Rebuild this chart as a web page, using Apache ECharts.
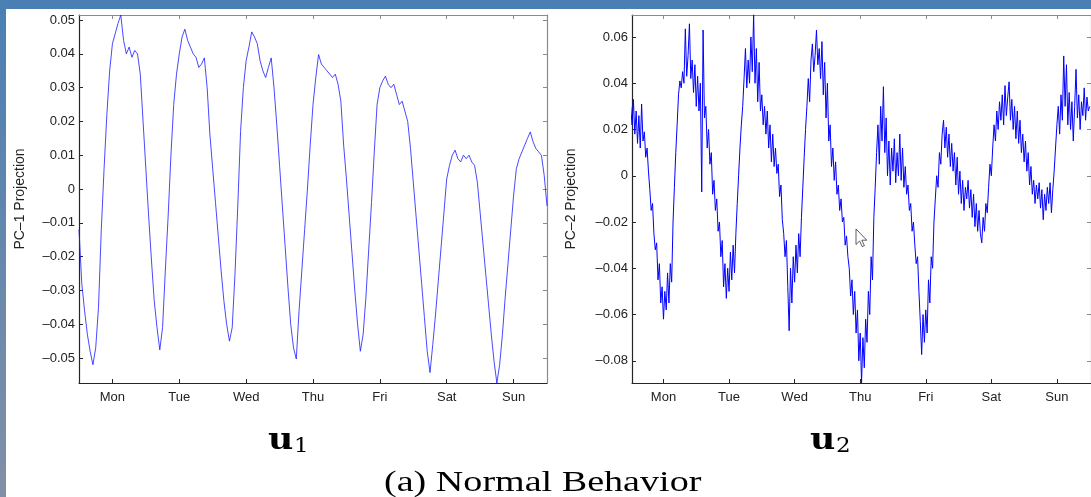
<!DOCTYPE html>
<html>
<head>
<meta charset="utf-8">
<script src="https://cdn.jsdelivr.net/npm/echarts@6/dist/echarts.min.js"></script>
<style>
html,body{margin:0;padding:0;background:#fff;overflow:hidden;width:1091px;height:497px;}
#chart{width:1091px;height:497px;}
</style>
</head>
<body>
<div id="chart"></div>
<script>
// ---- data ----
const dayLabels = ['Mon','Tue','Wed','Thu','Fri','Sat','Sun'];
const dayTicks = [0,1,2,3,4,5,6];
const yTicks1 = [-0.05,-0.04,-0.03,-0.02,-0.01,0,0.01,0.02,0.03,0.04,0.05];
const yTicks2 = [-0.08,-0.06,-0.04,-0.02,0,0.02,0.04,0.06];
const yRange1 = [-0.0574, 0.0515];
const yRange2 = [-0.0896, 0.0695];
const xRange1 = [-0.5, 6.5];
const xRange2 = [-0.48, 6.52];
const samplesPerDay1 = 24;   // hourly samples, starting Mon 00:00
const samplesPerDay2 = 48;   // half-hourly samples, starting Mon 00:00

// PC-1 projection (hourly)
const u1Values = [
 -0.012,-0.028,-0.036,-0.043,-0.048,-0.052,-0.047,-0.035,-0.012,0.006,0.022,0.035,0.043,0.046,0.049,0.0515,0.044,0.040,0.042,0.039,0.041,0.040,0.034,0.020,
 0.006,-0.008,-0.021,-0.033,-0.041,-0.0476,-0.041,-0.024,-0.008,0.010,0.025,0.034,0.040,0.045,0.0473,0.044,0.042,0.040,0.039,0.036,0.037,0.0388,0.030,0.016,
 0.006,-0.004,-0.014,-0.024,-0.033,-0.040,-0.045,-0.041,-0.025,-0.005,0.017,0.030,0.038,0.042,0.0465,0.045,0.043,0.038,0.035,0.033,0.036,0.0388,0.030,0.019,
 0.007,-0.005,-0.017,-0.029,-0.040,-0.047,-0.0503,-0.036,-0.024,-0.012,0.000,0.013,0.025,0.033,0.0398,0.037,0.036,0.035,0.034,0.033,0.034,0.031,0.026,0.013,
 0.003,-0.008,-0.019,-0.030,-0.040,-0.048,-0.043,-0.032,-0.018,-0.004,0.011,0.025,0.030,0.032,0.0334,0.031,0.030,0.031,0.028,0.025,0.026,0.023,0.020,0.012,
 0.002,-0.008,-0.018,-0.028,-0.038,-0.048,-0.0543,-0.046,-0.037,-0.027,-0.017,-0.007,0.003,0.007,0.010,0.0115,0.009,0.008,0.010,0.009,0.010,0.008,0.007,0.002,
 -0.007,-0.016,-0.025,-0.034,-0.043,-0.051,-0.0574,-0.052,-0.043,-0.032,-0.022,-0.012,-0.002,0.006,0.009,0.011,0.013,0.015,0.0169,0.014,0.012,0.011,0.010,0.004,-0.005
];

// PC-2 projection (half-hourly)
const u2Values = [
 0.030,0.022,0.033,0.018,0.028,0.014,0.026,0.012,0.031,0.015,0.019,0.008,
 0.012,0.002,-0.006,-0.015,-0.012,-0.025,-0.032,-0.029,-0.045,-0.038,-0.055,-0.048,
 -0.062,-0.050,-0.058,-0.042,-0.055,-0.038,-0.046,-0.020,-0.005,0.010,0.022,0.035,
 0.041,0.038,0.045,0.040,0.0635,0.043,0.052,0.0657,0.042,0.050,0.036,0.048,
 0.030,0.043,0.028,0.040,-0.007,0.063,0.025,0.030,0.012,0.020,0.005,0.010,
 -0.008,-0.002,-0.015,-0.010,-0.024,-0.020,-0.035,-0.028,-0.048,-0.038,-0.053,-0.040,
 -0.050,-0.033,-0.045,-0.030,-0.042,-0.025,-0.012,0.000,0.012,0.022,0.030,0.042,
 0.055,0.038,0.050,0.040,0.060,0.045,0.0696,0.040,0.055,0.032,0.049,0.028,
 0.035,0.022,0.030,0.018,0.028,0.012,0.022,0.006,0.018,0.004,0.012,0.001,
 0.005,-0.009,-0.004,-0.019,-0.025,-0.035,-0.028,-0.048,-0.067,-0.040,-0.055,-0.035,
 -0.046,-0.030,-0.042,-0.025,-0.035,-0.018,-0.005,0.008,0.020,0.030,0.042,0.032,
 0.050,0.057,0.045,0.052,0.063,0.048,0.055,0.042,0.058,0.035,0.049,0.025,
 0.040,0.015,0.022,0.004,0.012,-0.002,0.006,-0.008,-0.004,-0.015,-0.010,-0.020,
 -0.018,-0.030,-0.026,-0.035,-0.040,-0.052,-0.045,-0.060,-0.050,-0.068,-0.058,-0.080,
 -0.068,-0.0895,-0.070,-0.083,-0.062,-0.072,-0.050,-0.060,-0.035,-0.045,-0.018,-0.005,
 0.010,0.022,0.005,0.030,0.015,0.0385,0.010,0.025,0.000,0.015,-0.004,0.012,
 0.002,0.016,-0.003,0.010,0.000,0.018,-0.002,0.012,-0.005,0.004,-0.008,-0.004,
 -0.015,-0.012,-0.024,-0.020,-0.030,-0.038,-0.035,-0.050,-0.063,-0.0773,-0.060,-0.072,
 -0.058,-0.068,-0.045,-0.055,-0.035,-0.040,-0.020,-0.010,0.000,-0.005,0.010,0.005,
 0.018,0.024,0.012,0.021,0.008,0.018,0.004,0.014,0.002,0.010,-0.004,0.008,
 -0.008,0.002,-0.012,-0.002,-0.015,-0.005,-0.010,-0.002,-0.014,-0.006,-0.018,-0.008,
 -0.022,-0.012,-0.024,-0.015,-0.025,-0.029,-0.018,-0.024,-0.012,-0.016,-0.005,0.005,
 0.000,0.012,0.022,0.015,0.028,0.020,0.032,0.024,0.035,0.022,0.039,0.026,
 0.034,0.0406,0.024,0.033,0.020,0.030,0.016,0.028,0.014,0.024,0.010,0.018,
 0.006,0.015,0.002,0.010,-0.004,0.004,-0.008,-0.002,-0.012,-0.004,-0.010,-0.003,
 -0.014,-0.006,-0.019,-0.008,-0.015,-0.005,-0.012,-0.003,-0.016,-0.006,0.002,0.012,
 0.022,0.030,0.018,0.035,0.024,0.0518,0.030,0.048,0.022,0.036,0.020,0.032,
 0.015,0.030,0.046,0.025,0.035,0.020,0.032,0.026,0.038,0.024,0.034,0.028,0.030
];

// ---- build ----
const toPairs = (vals, perDay) => vals.map((v, i) => [-0.5 + i / perDay, v]);
const fmtY = v => {
  if (Math.abs(v) < 1e-9) return '0';
  const s = Math.abs(v).toFixed(2);
  return v < 0 ? '\u2013' + s : s;
};
const dark = '#262626', gray = '#8a8a8a';
const lblFont = {fontFamily: '"Liberation Sans", Arial, sans-serif', fontSize: 13, color: '#222'};

function xAxes(grid, range) {
  return [
    {gridIndex: grid, type: 'value', min: range[0], max: range[1], position: 'bottom',
     axisLine: {show: true, onZero: false, lineStyle: {color: dark, width: 1.2}},
     axisTick: {show: true, inside: true, length: 4, customValues: dayTicks, lineStyle: {color: dark}},
     axisLabel: Object.assign({show: true, customValues: dayTicks, margin: 8,
       formatter: v => dayLabels[Math.round(v)]}, lblFont),
     splitLine: {show: false}},
    {gridIndex: grid, type: 'value', min: range[0], max: range[1], position: 'top',
     axisLine: {show: true, onZero: false, lineStyle: {color: gray, width: 1.2}},
     axisTick: {show: true, inside: true, length: 4, customValues: dayTicks, lineStyle: {color: gray}},
     axisLabel: {show: false}, splitLine: {show: false}}
  ];
}
function yAxes(grid, range, ticks, name, gap) {
  return [
    {gridIndex: grid, type: 'value', min: range[0], max: range[1], position: 'left',
     name: name, nameLocation: 'middle', nameGap: gap, nameRotate: 90,
     nameTextStyle: {fontFamily: '"Liberation Sans", Arial, sans-serif', fontSize: 14, color: '#222'},
     axisLine: {show: true, onZero: false, lineStyle: {color: dark, width: 1.2}},
     axisTick: {show: true, inside: true, length: 4, customValues: ticks, lineStyle: {color: dark}},
     axisLabel: Object.assign({show: true, customValues: ticks, margin: 4, formatter: fmtY}, lblFont),
     splitLine: {show: false}},
    {gridIndex: grid, type: 'value', min: range[0], max: range[1], position: 'right',
     axisLine: {show: true, onZero: false, lineStyle: {color: gray, width: 1.2}},
     axisTick: {show: true, inside: true, length: 4, customValues: ticks, lineStyle: {color: gray}},
     axisLabel: {show: false}, splitLine: {show: false}}
  ];
}

const chart = echarts.init(document.getElementById('chart'), null, {renderer: 'canvas'});
chart.setOption({
  animation: false,
  backgroundColor: '#ffffff',
  grid: [
    {left: 79, top: 15, width: 468, height: 368},
    {left: 632, top: 15, width: 469, height: 368}
  ],
  xAxis: xAxes(0, xRange1).concat(xAxes(1, xRange2)),
  yAxis: yAxes(0, yRange1, yTicks1, 'PC\u20131 Projection', 52)
    .concat(yAxes(1, yRange2, yTicks2, 'PC\u20132 Projection', 54)),
  series: [
    {type: 'line', xAxisIndex: 0, yAxisIndex: 0, data: toPairs(u1Values, samplesPerDay1),
     showSymbol: false, symbol: 'none', lineStyle: {color: '#1a1aff', width: 0.8}, clip: true, sampling: null},
    {type: 'line', xAxisIndex: 2, yAxisIndex: 2, data: toPairs(u2Values, samplesPerDay2),
     showSymbol: false, symbol: 'none', lineStyle: {color: '#0000ff', width: 1}, clip: true, sampling: null}
  ],
  graphic: [
    {type: 'rect', left: 0, top: 0, shape: {width: 1091, height: 9}, style: {fill: '#4a7fb3'}, silent: true},
    {type: 'rect', left: 0, top: 0, shape: {width: 6, height: 497},
     style: {fill: new echarts.graphic.LinearGradient(0, 0, 0, 1, [
       {offset: 0, color: '#4a7fb3'}, {offset: 1, color: '#8190a6'}])}, silent: true},
    {type: 'text', x: 268, y: 441, scaleX: 1.2,
     style: {text: 'u', font: 'bold 29px "DejaVu Serif", serif', fill: '#000',
             align: 'left', verticalAlign: 'middle', textAlign: 'left', textVerticalAlign: 'middle'}},
    {type: 'text', x: 294, y: 447, scaleX: 1.15,
     style: {text: '1', font: '20px "DejaVu Serif", serif', fill: '#000',
             align: 'left', verticalAlign: 'middle', textAlign: 'left', textVerticalAlign: 'middle'}},
    {type: 'text', x: 810, y: 441, scaleX: 1.2,
     style: {text: 'u', font: 'bold 29px "DejaVu Serif", serif', fill: '#000',
             align: 'left', verticalAlign: 'middle', textAlign: 'left', textVerticalAlign: 'middle'}},
    {type: 'text', x: 836, y: 447, scaleX: 1.15,
     style: {text: '2', font: '20px "DejaVu Serif", serif', fill: '#000',
             align: 'left', verticalAlign: 'middle', textAlign: 'left', textVerticalAlign: 'middle'}},
    {type: 'text', x: 384, y: 483, scaleX: 1.27,
     style: {text: '(a) Normal Behavior', font: '30px "Liberation Serif", "Times New Roman", serif', fill: '#000',
             align: 'left', verticalAlign: 'middle', textAlign: 'left', textVerticalAlign: 'middle'}},
    {type: 'polygon', z: 100, silent: true,
     shape: {points: [[856,229],[856,244.5],[859.6,241],[862.2,246.6],[864.4,245.7],[861.8,240.2],[866.8,240.2]]},
     style: {fill: '#ffffff', stroke: '#333333', lineWidth: 0.8}}
  ]
});
</script>
</body>
</html>
